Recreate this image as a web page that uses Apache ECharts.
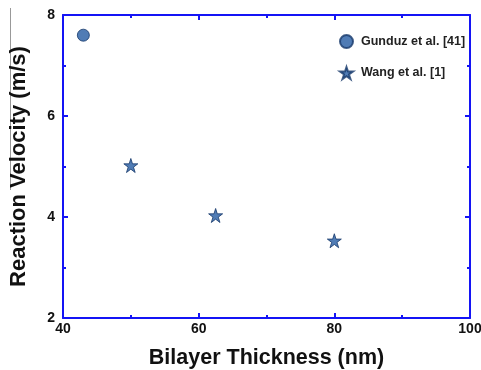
<!DOCTYPE html>
<html>
<head>
<meta charset="utf-8">
<script src="https://cdn.jsdelivr.net/npm/echarts@6/dist/echarts.min.js"></script>
<style>
  html, body { margin: 0; padding: 0; background: #fff; overflow: hidden; }
  #chart { width: 481px; height: 370px; }
</style>
</head>
<body>
<div id="chart"></div>
<script>
// data
var gunduzX = [43];
var gunduzY = [7.6];
var wangX = [50, 62.5, 80];
var wangY = [5.02, 4.03, 3.53];

var xTicks = [40, 60, 80, 100];
var yTicks = [2, 4, 6, 8];

var blue = '#1414f5';
var markFill = '#245ba3';
var markEdge = '#17386a';
var font = 'Liberation Sans, Arial, sans-serif';
var starPath = 'path://M50,0 L61.8,35.4 L100,35.4 L69.1,57.3 L80.9,92.7 L50,70.8 L19.1,92.7 L30.9,57.3 L0,35.4 L38.2,35.4 Z';

function pairs(xs, ys) {
	var out = [];
	for (var i = 0; i < xs.length; i++) out.push([xs[i], ys[i]]);
	return out;
}

var chart = echarts.init(document.getElementById('chart'));

var axisBase = {
	axisLine: { show: true, onZero: false, lineStyle: { color: blue, width: 2 } },
	axisTick: { show: true, inside: true, length: 5, lineStyle: { color: blue, width: 2 } },
	minorTick: { show: true, splitNumber: 2, length: 3, lineStyle: { color: blue, width: 2 } },
	splitLine: { show: false }
};

var option = {
	animation: false,
	backgroundColor: '#fff',
	// keep the plot box fixed even if labels touch the edge
	grid: { left: 63, right: 11, top: 15, bottom: 52, containLabel: false, outerBoundsMode: 'none' },
	legend: {
		orient: 'vertical',
		left: 334,
		top: 29,
		itemWidth: 13,
		itemHeight: 13,
		itemGap: 17,
		textStyle: { fontFamily: font, fontWeight: 'bold', fontSize: 12.5, color: '#222', padding: [0, 0, 0, 3] },
		data: [
			{ name: 'Gunduz et al. [41]', icon: 'circle' },
			{ name: 'Wang et al. [1]', icon: starPath }
		]
	},
	xAxis: [
		Object.assign({}, axisBase, {
			type: 'value', min: xTicks[0], max: xTicks[xTicks.length - 1], interval: 20,
			position: 'bottom',
			name: 'Bilayer Thickness (nm)',
			nameLocation: 'middle',
			nameGap: 29,
			nameTextStyle: { fontFamily: font, fontWeight: 'bold', fontSize: 21.5, color: '#111' },
			axisLabel: { margin: 4, fontFamily: font, fontWeight: 'bold', fontSize: 14, color: '#111' }
		}),
		Object.assign({}, axisBase, {
			type: 'value', min: xTicks[0], max: xTicks[xTicks.length - 1], interval: 20,
			position: 'top',
			axisLabel: { show: false }
		})
	],
	yAxis: [
		Object.assign({}, axisBase, {
			type: 'value', min: yTicks[0], max: yTicks[yTicks.length - 1], interval: 2,
			position: 'left',
			name: 'Reaction Velocity (m/s)',
			nameLocation: 'middle',
			nameGap: 33,
			nameTextStyle: { fontFamily: font, fontWeight: 'bold', fontSize: 22, color: '#111' },
			axisLabel: { margin: 8, fontFamily: font, fontWeight: 'bold', fontSize: 14, color: '#111' }
		}),
		Object.assign({}, axisBase, {
			type: 'value', min: yTicks[0], max: yTicks[yTicks.length - 1], interval: 2,
			position: 'right',
			axisLabel: { show: false }
		})
	],
	graphic: [{
		type: 'line',
		shape: { x1: 10.5, y1: 8, x2: 10.5, y2: 190 },
		style: { stroke: '#999', lineWidth: 1 }
	}],
	series: [
		{
			name: 'Gunduz et al. [41]',
			type: 'scatter',
			symbol: 'circle',
			symbolSize: 12,
			itemStyle: { color: markFill, borderColor: markEdge, borderWidth: 1 },
			data: pairs(gunduzX, gunduzY)
		},
		{
			name: 'Wang et al. [1]',
			type: 'scatter',
			symbol: starPath,
			symbolSize: 14,
			itemStyle: { color: markFill, borderColor: markEdge, borderWidth: 1 },
			data: pairs(wangX, wangY)
		}
	]
};

chart.setOption(option);
</script>
</body>
</html>
